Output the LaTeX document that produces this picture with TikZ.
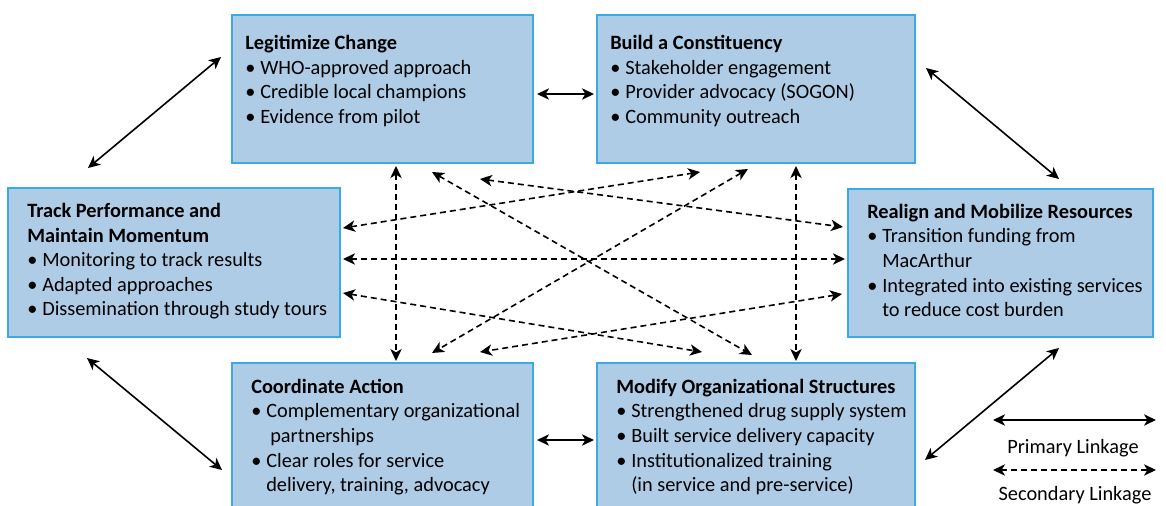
\documentclass[tikz,border=0pt]{standalone}
\usepackage{fontspec}
\setmainfont{Carlito}
\usetikzlibrary{arrows.meta,calc,fit}
\definecolor{boxfill}{RGB}{175,204,230}
\definecolor{boxline}{RGB}{58,170,228}
\newcommand\bitem{\makebox[11.25pt][l]{\textbullet}}
\newcommand\bind{\hspace*{11.25pt}}
\begin{document}
\begin{tikzpicture}[x=0.75pt,y=-0.75pt,
  box/.style={draw=boxline,fill=boxfill,line width=1.5pt,inner sep=0pt,outer sep=0pt},
  txt/.style={inner sep=0pt,anchor=base west,font=\fontsize{15.26}{18.45}\selectfont},
  lgd/.style={inner sep=0pt,anchor=base,font=\fontsize{15.26}{18.45}\selectfont},
  prim/.style={line width=1.2pt,{Stealth[length=9pt,width=8.5pt,inset=2.5pt]}-{Stealth[length=9pt,width=8.5pt,inset=2.5pt]}},
  sec/.style={prim,dash pattern=on 4.5pt off 3pt}]
\useasboundingbox (0,0) rectangle (1166,506);
\clip (0,0) rectangle (1166,506);

% boxes
\node[box, fit={(232,15)(533,163)}] (leg) {};
\node[box, fit={(597,15)(915,163)}] (bld) {};
\node[box, fit={(8,188)(340,337)}] (trk) {};
\node[box, fit={(848,189)(1153,337)}] (rea) {};
\node[box, fit={(232,363)(533,530)}] (coo) {};
\node[box, fit={(597,363)(915,530)}] (mod) {};

% texts
\node[txt] (legT) at (245,49.5) {\begin{tabular}[t]{@{}l@{}}\textbf{Legitimize Change}\\
\bitem WHO-approved approach\\
\bitem Credible local champions\\
\bitem Evidence from pilot\end{tabular}};
\node[txt] (bldT) at (610,49.5) {\begin{tabular}[t]{@{}l@{}}\textbf{Build a Constituency}\\
\bitem Stakeholder engagement\\
\bitem Provider advocacy (SOGON)\\
\bitem Community outreach\end{tabular}};
\node[txt] (trkT) at (27,217.5) {\begin{tabular}[t]{@{}l@{}}\textbf{Track Performance and}\\
\textbf{Maintain Momentum}\\
\bitem Monitoring to track results\\
\bitem Adapted approaches\\
\bitem Dissemination through study tours\end{tabular}};
\node[txt] (reaT) at (867,218.3) {\begin{tabular}[t]{@{}l@{}}\textbf{Realign and Mobilize Resources}\\
\bitem Transition funding from\\
\bind MacArthur\\
\bitem Integrated into existing services\\
\bind to reduce cost burden\end{tabular}};
\node[txt] (cooT) at (251,393.3) {\begin{tabular}[t]{@{}l@{}}\textbf{Coordinate Action}\\
\bitem Complementary organizational\\
\bind\hspace*{3pt}partnerships\\
\bitem Clear roles for service\\
\bind delivery, training, advocacy\end{tabular}};
\node[txt] (modT) at (616,393.3) {\begin{tabular}[t]{@{}l@{}}\textbf{Modify Organizational Structures}\\
\bitem Strengthened drug supply system\\
\bitem Built service delivery capacity\\
\bitem Institutionalized training\\
\bind (in service and pre-service)\end{tabular}};

% primary linkages
\draw[prim] ($(leg.north east)+(4,79)$) -- ($(bld.north west)+(-3,79)$);
\draw[prim] ($(coo.north east)+(4,77)$) -- ($(mod.north west)+(-3,77)$);
\draw[prim] ($(trk.north west)+(80,-20)$) -- ($(leg.north west)+(-11,42)$);
\draw[prim] ($(bld.north east)+(11,53)$) -- ($(rea.north west)+(211,-10)$);
\draw[prim] ($(trk.south west)+(79,21)$) -- ($(coo.north west)+(-10,107)$);
\draw[prim] ($(mod.north east)+(10,97)$) -- ($(rea.south west)+(211,11)$);

% secondary linkages
\draw[sec] ($(leg.south west)+(164,3)$) -- ($(coo.north west)+(164,-2)$);
\draw[sec] ($(bld.south west)+(199,3)$) -- ($(mod.north west)+(199,-2)$);
\draw[sec] ($(trk.north east)+(3,71)$) -- ($(rea.north west)+(-3,70)$);
\draw[sec] ($(trk.north east)+(3,40)$) -- ($(bld.south west)+(103,9)$);
\draw[sec] ($(leg.south west)+(248,16)$) -- ($(rea.north west)+(-5,38)$);
\draw[sec] ($(leg.south west)+(200,9)$) -- ($(mod.north west)+(155,-8)$);
\draw[sec] ($(bld.south west)+(151,6)$) -- ($(coo.north west)+(200,-10)$);
\draw[sec] ($(trk.north east)+(3,105)$) -- ($(mod.north west)+(105,-11)$);
\draw[sec] ($(rea.north west)+(-6,105)$) -- ($(coo.north west)+(248,-11)$);

% legend
\coordinate (p1) at (993,420);
\coordinate (p2) at (1156,420);
\coordinate (s1) at (993,470);
\coordinate (s2) at (1156,470);
\draw[prim] (p1) -- (p2);
\draw[sec] (s1) -- (s2);
\node[lgd] (pL) at (1073,453) {Primary Linkage};
\node[lgd] (sL) at (1075,500) {Secondary Linkage};
\end{tikzpicture}
\end{document}
